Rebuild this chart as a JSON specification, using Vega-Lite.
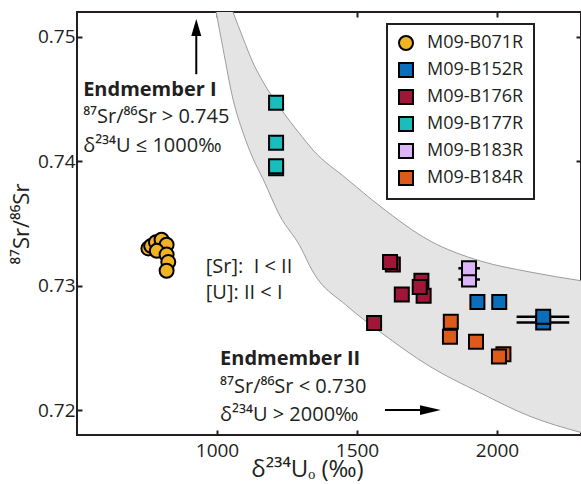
{
  "$schema": "https://vega.github.io/schema/vega-lite/v6.json",
  "width": 504,
  "height": 423,
  "autosize": "none",
  "padding": {"left": 77, "top": 12, "right": 0, "bottom": 49},
  "background": "white",
  "datasets": {
    "pts": [
      {"sample": "M09-B071R", "u": 755, "sr": 0.7330},
      {"sample": "M09-B071R", "u": 765, "sr": 0.7332},
      {"sample": "M09-B071R", "u": 782, "sr": 0.7335},
      {"sample": "M09-B071R", "u": 802, "sr": 0.7337},
      {"sample": "M09-B071R", "u": 820, "sr": 0.7333},
      {"sample": "M09-B071R", "u": 785, "sr": 0.7328},
      {"sample": "M09-B071R", "u": 820, "sr": 0.7325},
      {"sample": "M09-B071R", "u": 826, "sr": 0.7319},
      {"sample": "M09-B071R", "u": 820, "sr": 0.7312},
      {"sample": "M09-B152R", "u": 1930, "sr": 0.7287},
      {"sample": "M09-B152R", "u": 2008, "sr": 0.7287},
      {"sample": "M09-B152R", "u": 2165, "sr": 0.72705, "ulo": 2070, "uhi": 2258},
      {"sample": "M09-B152R", "u": 2165, "sr": 0.7275, "ulo": 2070, "uhi": 2258},
      {"sample": "M09-B176R", "u": 1628, "sr": 0.7317},
      {"sample": "M09-B176R", "u": 1618, "sr": 0.7319},
      {"sample": "M09-B176R", "u": 1738, "sr": 0.7292},
      {"sample": "M09-B176R", "u": 1730, "sr": 0.7304},
      {"sample": "M09-B176R", "u": 1724, "sr": 0.7299},
      {"sample": "M09-B176R", "u": 1660, "sr": 0.7293},
      {"sample": "M09-B176R", "u": 1561, "sr": 0.7270},
      {"sample": "M09-B177R", "u": 1211, "sr": 0.7447},
      {"sample": "M09-B177R", "u": 1211, "sr": 0.7415},
      {"sample": "M09-B177R", "u": 1211, "sr": 0.73945},
      {"sample": "M09-B177R", "u": 1211, "sr": 0.7396},
      {"sample": "M09-B183R", "u": 1900, "sr": 0.7305, "ulo": 1862, "uhi": 1939},
      {"sample": "M09-B183R", "u": 1900, "sr": 0.7314, "ulo": 1862, "uhi": 1939},
      {"sample": "M09-B184R", "u": 1835, "sr": 0.7271},
      {"sample": "M09-B184R", "u": 1832, "sr": 0.7259},
      {"sample": "M09-B184R", "u": 1925, "sr": 0.7255},
      {"sample": "M09-B184R", "u": 2023, "sr": 0.7245},
      {"sample": "M09-B184R", "u": 2007, "sr": 0.7243}
    ],
    "band": [
      {"u": 996, "lo": 0.7521, "hi": 0.7556},
      {"u": 1022, "lo": 0.7490, "hi": 0.7541},
      {"u": 1057, "lo": 0.7450, "hi": 0.7520},
      {"u": 1093, "lo": 0.7423, "hi": 0.7499},
      {"u": 1129, "lo": 0.7402, "hi": 0.7479},
      {"u": 1164, "lo": 0.7386, "hi": 0.7464},
      {"u": 1225, "lo": 0.7356, "hi": 0.7443},
      {"u": 1296, "lo": 0.7332, "hi": 0.7422},
      {"u": 1343, "lo": 0.7311, "hi": 0.7409},
      {"u": 1463, "lo": 0.7284, "hi": 0.7386},
      {"u": 1582, "lo": 0.7263, "hi": 0.7364},
      {"u": 1761, "lo": 0.7235, "hi": 0.7336},
      {"u": 1939, "lo": 0.7214, "hi": 0.7320},
      {"u": 2118, "lo": 0.7195, "hi": 0.7311},
      {"u": 2300, "lo": 0.7182, "hi": 0.7304}
    ],
    "notes": [
      {"label": "Endmember I", "u": 522, "sr": 0.74526, "bold": true},
      {"label": "⁸⁷Sr/⁸⁶Sr > 0.745", "u": 522, "sr": 0.74306, "bold": false},
      {"label": "δ²³⁴U ≤ 1000‰", "u": 522, "sr": 0.74073, "bold": false},
      {"label": "[Sr]:\u00a0\u00a0I < II", "u": 960, "sr": 0.73106, "bold": false},
      {"label": "[U]: II < I", "u": 960, "sr": 0.72891, "bold": false},
      {"label": "Endmember II", "u": 1011, "sr": 0.72360, "bold": true},
      {"label": "⁸⁷Sr/⁸⁶Sr < 0.730", "u": 1011, "sr": 0.72135, "bold": false},
      {"label": "δ²³⁴U > 2000‰", "u": 1011, "sr": 0.71913, "bold": false}
    ],
    "shafts": [
      {"u": 926, "u2": 926, "sr": 0.7470, "sr2": 0.75046},
      {"u": 1600, "u2": 1743, "sr": 0.7200, "sr2": 0.7200}
    ],
    "headUp": [{"u": 926, "sr": 0.75076}],
    "headRight": [{"u": 1762, "sr": 0.7200}]
  },
  "resolve": {"axis": {"x": "independent", "y": "independent"}},
  "layer": [
    {
      "data": {"name": "band"},
      "mark": {"type": "area", "fill": "#e4e4e4", "clip": true, "interpolate": "monotone"},
      "encoding": {
        "x": {"field": "u", "type": "quantitative", "scale": {"domain": [500, 2300], "nice": false, "zero": false}, "axis": null},
        "y": {"field": "lo", "type": "quantitative", "scale": {"domain": [0.718, 0.752], "nice": false, "zero": false}, "axis": null},
        "y2": {"field": "hi"}
      }
    },
    {
      "data": {"name": "band"},
      "mark": {"type": "line", "stroke": "#9c9c9c", "strokeWidth": 1, "clip": true, "interpolate": "monotone"},
      "encoding": {
        "x": {"field": "u", "type": "quantitative", "axis": null},
        "y": {"field": "lo", "type": "quantitative", "axis": null}
      }
    },
    {
      "data": {"name": "band"},
      "mark": {"type": "line", "stroke": "#9c9c9c", "strokeWidth": 1, "clip": true, "interpolate": "monotone"},
      "encoding": {
        "x": {"field": "u", "type": "quantitative", "axis": null},
        "y": {"field": "hi", "type": "quantitative", "axis": null}
      }
    },
    {
      "data": {"name": "pts"},
      "transform": [{"filter": "isValid(datum.ulo)"}],
      "mark": {"type": "rule", "stroke": "black", "strokeWidth": 2.5},
      "encoding": {
        "x": {"field": "ulo", "type": "quantitative", "axis": null},
        "x2": {"field": "uhi"},
        "y": {"field": "sr", "type": "quantitative", "axis": null}
      }
    },
    {
      "data": {"name": "pts"},
      "mark": {"type": "point", "filled": true, "size": 196, "stroke": "black", "strokeWidth": 2, "opacity": 1, "fillOpacity": 1},
      "encoding": {
        "x": {
          "field": "u", "type": "quantitative",
          "axis": {"values": [1000, 1500, 2000], "format": "d", "title": "δ²³⁴Uₒ (‰)", "orient": "bottom",
                   "labelPadding": 6, "titleFontSize": 24, "titleX": 230, "titleY": 46, "titleBaseline": "alphabetic", "titleAnchor": "middle", "titleAlign": "center"}
        },
        "y": {
          "field": "sr", "type": "quantitative",
          "axis": {"values": [0.72, 0.73, 0.74, 0.75], "format": ".2f", "title": "⁸⁷Sr/⁸⁶Sr", "orient": "left", "labelPadding": 2}
        },
        "color": {
          "field": "sample", "type": "nominal",
          "scale": {
            "domain": ["M09-B071R", "M09-B152R", "M09-B176R", "M09-B177R", "M09-B183R", "M09-B184R"],
            "range": ["#F0B323", "#0A6EBD", "#A11636", "#18BDBC", "#DBB5F7", "#DD5A1B"]
          },
          "legend": {
            "title": null, "orient": "none", "legendX": 310, "legendY": 12,
            "fillColor": "white", "strokeColor": "#231f20", "padding": 10,
            "labelFont": "Open Sans", "labelFontSize": 18, "labelColor": "#231f20",
            "symbolSize": 196, "symbolStrokeColor": "black", "symbolStrokeWidth": 2,
            "rowPadding": 5, "labelOffset": 12
          }
        },
        "shape": {
          "field": "sample", "type": "nominal",
          "scale": {
            "domain": ["M09-B071R", "M09-B152R", "M09-B176R", "M09-B177R", "M09-B183R", "M09-B184R"],
            "range": ["circle", "square", "square", "square", "square", "square"]
          }
        }
      }
    },
    {
      "data": {"name": "notes"},
      "transform": [{"filter": "datum.bold"}],
      "mark": {"type": "text", "align": "left", "baseline": "alphabetic", "font": "Open Sans", "fontSize": 20, "fontWeight": "bold", "color": "#231f20"},
      "encoding": {
        "x": {"field": "u", "type": "quantitative", "axis": null},
        "y": {"field": "sr", "type": "quantitative", "axis": null},
        "text": {"field": "label"}
      }
    },
    {
      "data": {"name": "notes"},
      "transform": [{"filter": "!datum.bold"}],
      "mark": {"type": "text", "align": "left", "baseline": "alphabetic", "font": "Open Sans", "fontSize": 20, "color": "#231f20"},
      "encoding": {
        "x": {"field": "u", "type": "quantitative", "axis": null},
        "y": {"field": "sr", "type": "quantitative", "axis": null},
        "text": {"field": "label"}
      }
    },
    {
      "data": {"name": "shafts"},
      "mark": {"type": "rule", "stroke": "black", "strokeWidth": 2},
      "encoding": {
        "x": {"field": "u", "type": "quantitative", "axis": null},
        "x2": {"field": "u2"},
        "y": {"field": "sr", "type": "quantitative", "axis": null},
        "y2": {"field": "sr2"}
      }
    },
    {
      "data": {"name": "headUp"},
      "mark": {"type": "point", "filled": true, "fill": "black", "stroke": null, "size": 289, "shape": "M0,-1L0.59,1L-0.59,1Z", "opacity": 1},
      "encoding": {
        "x": {"field": "u", "type": "quantitative", "axis": null},
        "y": {"field": "sr", "type": "quantitative", "axis": null}
      }
    },
    {
      "data": {"name": "headRight"},
      "mark": {"type": "point", "filled": true, "fill": "black", "stroke": null, "size": 430, "shape": "M1,0L-1,-0.48L-1,0.48Z", "opacity": 1},
      "encoding": {
        "x": {"field": "u", "type": "quantitative", "axis": null},
        "y": {"field": "sr", "type": "quantitative", "axis": null}
      }
    },
    {
      "data": {"name": "headRight"},
      "mark": {"type": "point", "opacity": 0},
      "encoding": {
        "x": {"field": "u", "type": "quantitative", "axis": {"orient": "top", "values": [1000, 1500, 2000], "labels": false, "title": null}},
        "y": {"field": "sr", "type": "quantitative", "axis": {"orient": "right", "values": [0.72, 0.73, 0.74, 0.75], "labels": false, "title": null}}
      }
    }
  ],
  "config": {
    "font": "Open Sans",
    "view": {"stroke": "#231f20", "strokeWidth": 2},
    "legend": {"strokeWidth": 2},
    "axis": {
      "domain": false,
      "grid": false,
      "ticks": true,
      "tickColor": "#231f20",
      "tickWidth": 2,
      "tickSize": 5,
      "offset": -5,
      "labelPadding": 4,
      "labelFont": "Open Sans",
      "labelFontSize": 19,
      "labelColor": "#231f20",
      "titleFont": "Open Sans",
      "titleFontSize": 22,
      "titleFontWeight": "normal",
      "titleColor": "#231f20"
    }
  }
}
